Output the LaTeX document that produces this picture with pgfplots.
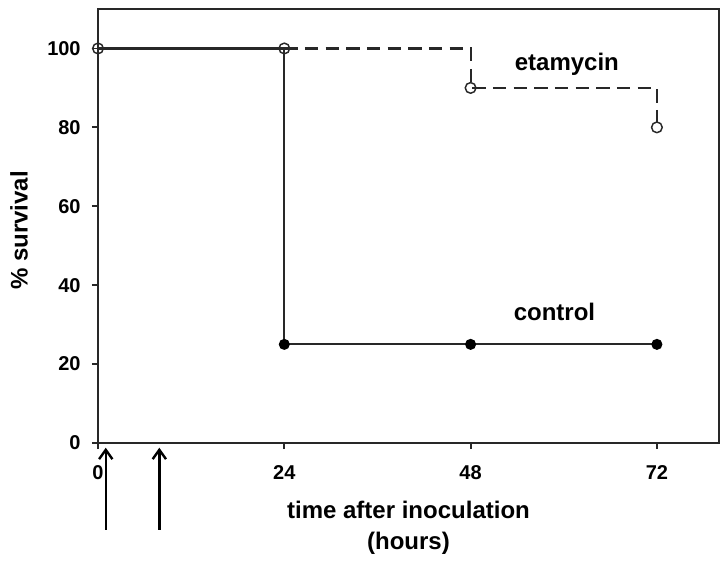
\documentclass[border=0pt]{standalone}
\usepackage{pgfplots}
\pgfplotsset{compat=1.18}
\usepackage{fontspec}
\setmainfont{Liberation Sans}
\usetikzlibrary{arrows.meta}
\definecolor{ln}{RGB}{40,40,40}
\begin{document}
\begin{tikzpicture}
\begin{axis}[
  at={(0,0)}, anchor=south west,
  scale only axis,
  width=465.75pt, height=325.5pt,
  xmin=0, xmax=80, ymin=0, ymax=110,
  xtick={0,24,48,72}, ytick={0,20,40,60,80,100},
  tick align=outside, tick pos=left,
  major tick length=4.5pt,
  axis line style={ln, line width=1.4pt},
  every tick/.style={ln, line width=1.4pt},
  /pgf/number format/assume math mode=true,
  ticklabel style={font=\fontsize{15}{18}\selectfont\bfseries},
  xticklabel style={yshift=-9pt},
  yticklabel style={xshift=-5pt},
  clip=false,
  xlabel={time after inoculation\\(hours)},
  xlabel style={at={(axis description cs:0.5,0)}, anchor=center, yshift=-63.4pt, align=center, font=\fontsize{18}{23}\selectfont\bfseries},
  ylabel={\% survival},
  ylabel style={at={(axis description cs:-0.1272,0.49)}, anchor=center, font=\fontsize{18}{23}\selectfont\bfseries},
]
% control
\addplot[const plot, ln, line width=1.6pt, mark=*, mark indices={2,3,4}, mark size=3.3pt, mark options={solid, fill=black, draw=black}]
  coordinates {(0,100) (24,25) (48,25) (72,25)};
% etamycin (0-24 h segment coincides with control)
\addplot[const plot, ln, line width=1.6pt, dash pattern=on 10pt off 5.5pt, mark=o, mark size=4pt, mark options={solid, fill=white, draw=ln, line width=1.1pt}]
  coordinates {(24,100) (48,90) (72,80)};
\addplot[only marks, mark=o, mark size=4pt, mark options={solid, fill=white, draw=ln, line width=1.1pt}]
  coordinates {(0,100)};
\node[font=\fontsize{18}{23}\selectfont\bfseries] at (axis cs:60.4,95.9) {etamycin};
\node[font=\fontsize{18}{23}\selectfont\bfseries] at (axis cs:58.8,33.3) {control};
\draw[-{Straight Barb[length=7pt,width=10pt]}, line width=1.8pt, black] (axis cs:1,-22) -- (axis cs:1,-1.2);
\draw[-{Straight Barb[length=7pt,width=10pt]}, line width=1.8pt, black] (axis cs:7.9,-22) -- (axis cs:7.9,-1.2);
\end{axis}
\path[use as bounding box] (-73.5pt,-89.25pt) rectangle (472.5pt,332.25pt);
\end{tikzpicture}
\end{document}
